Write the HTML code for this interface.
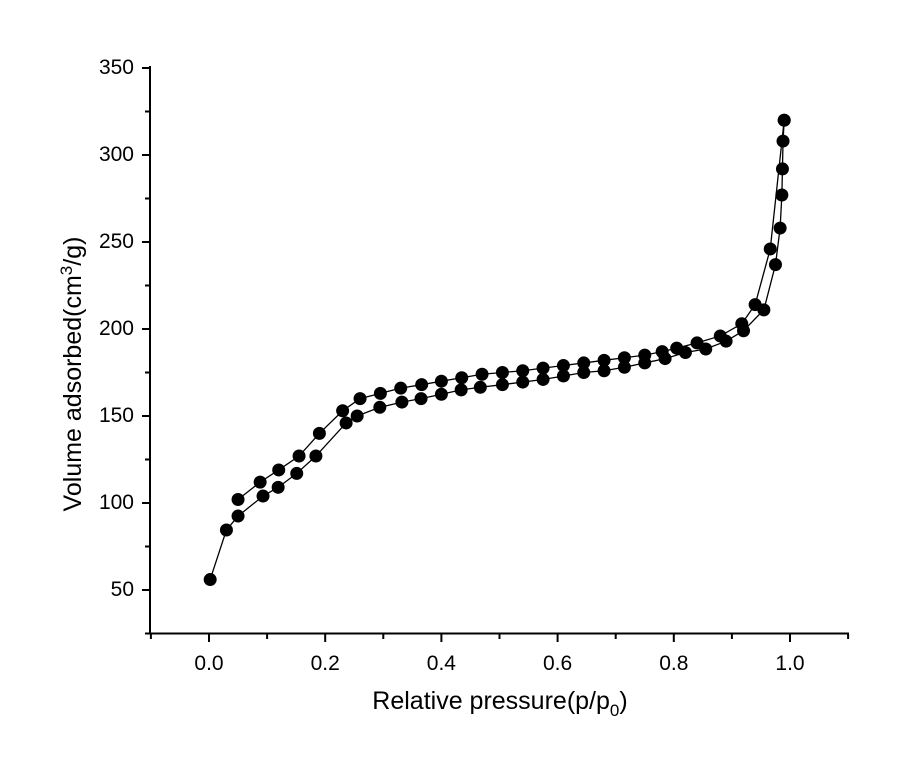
<!DOCTYPE html>
<html><head><meta charset="utf-8"><style>
body{margin:0;background:#fff}
svg text{font-family:"Liberation Sans",Arial,sans-serif;fill:#000}
</style></head><body>
<svg id="chart" width="900" height="772" viewBox="0 0 900 772" xmlns="http://www.w3.org/2000/svg">
<g id="axes"></g>
<g id="series"></g>
<text x="500" y="709" font-size="25" text-anchor="middle">Relative pressure(p/p<tspan font-size="17" dy="7">0</tspan><tspan dy="-7">)</tspan></text>
<text transform="translate(81,374) rotate(-90)" font-size="25" text-anchor="middle">Volume adsorbed(cm<tspan font-size="17" dy="-9">3</tspan><tspan dy="9">/g)</tspan></text>
</svg>
<script>
const adsX=[0.002,0.03,0.05,0.093,0.119,0.151,0.184,0.236,0.255,0.294,0.332,0.365,0.4,0.434,0.467,0.505,0.54,0.575,0.61,0.645,0.68,0.715,0.75,0.785,0.82,0.855,0.89,0.92,0.955,0.975,0.983,0.986,0.987,0.988,0.99];
const adsY=[56,84.5,92.5,104,109,117,127,146,150,155,158,160,162.5,165,166.5,168,169.5,171,173,175,176,178,180.5,183,186.5,188.5,193,199,211,237,258,277,292,308,320];
const desX=[0.99,0.966,0.94,0.917,0.88,0.84,0.805,0.78,0.75,0.715,0.68,0.645,0.61,0.575,0.54,0.505,0.47,0.435,0.4,0.366,0.33,0.295,0.26,0.23,0.19,0.155,0.12,0.088,0.05];
const desY=[320,246,214,203,196,192,189,187,185,183.5,182,180.5,179,177.5,176,175,174,172,170,168,166,163,160,153,140,127,119,112,102];
const xTicks=[-0.1,0,0.1,0.2,0.3,0.4,0.5,0.6,0.7,0.8,0.9,1.0,1.1];
const xLabels=["0.0","0.2","0.4","0.6","0.8","1.0"];
const yTicks=[25,50,75,100,125,150,175,200,225,250,275,300,325,350];
const yLabels=["50","100","150","200","250","300","350"];
const NS="http://www.w3.org/2000/svg";
const sx=v=>209+(v-0)*581;
const sy=v=>590-(v-50)*1.74;
function mk(tag,attrs,parent){const e=document.createElementNS(NS,tag);for(const k in attrs)e.setAttribute(k,attrs[k]);parent.appendChild(e);return e;}
const ax=document.getElementById('axes');
let l=mk('line',{x1:150,y1:633.5,x2:849,y2:633.5,stroke:'#000','stroke-width':2},ax);


l=mk('line',{x1:150,y1:634,x2:150,y2:66,stroke:'#000','stroke-width':2},ax);


xTicks.forEach(v=>{const t=mk('line',{x1:sx(v),y1:634,x2:sx(v),y2:Math.abs(Math.round(v*10))%2===0?642:639,stroke:'#000','stroke-width':2},ax);

});
xLabels.forEach(s=>{const t=mk('text',{x:sx(parseFloat(s)),y:670,'font-size':21,'text-anchor':'middle'},ax);t.textContent=s;

});
yTicks.forEach(v=>{const t=mk('line',{x1:150,y1:sy(v),x2:v%50===0?142:145,y2:sy(v),stroke:'#000','stroke-width':2},ax);

});
yLabels.forEach(s=>{const t=mk('text',{x:134,y:sy(parseFloat(s))+6,'font-size':21,'text-anchor':'end'},ax);t.textContent=s;

});
const sg=document.getElementById('series');
function draw(X,Y,name){
 const pl=mk('polyline',{points:X.map((x,i)=>sx(x)+','+sy(Y[i])).join(' '),fill:'none',stroke:'#000','stroke-width':1.3},sg);
 
 
 X.forEach((x,i)=>{const c=mk('circle',{cx:sx(x),cy:sy(Y[i]),r:6.5,fill:'#000'},sg);
 
 });
}
draw(adsX,adsY,'adsorption');
draw(desX,desY,'desorption');
</script>
</body></html>
